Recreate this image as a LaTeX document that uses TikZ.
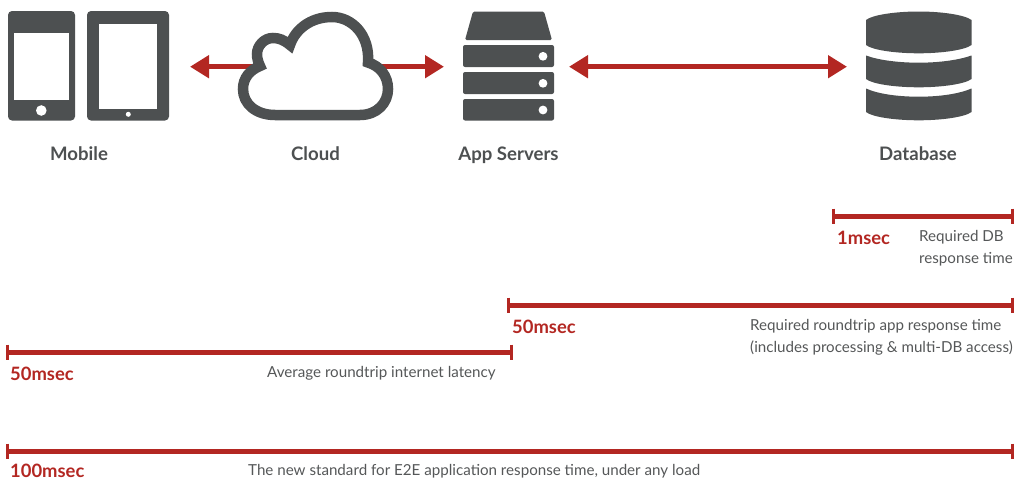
\documentclass[tikz,border=0pt]{standalone}
\usepackage{fontspec}
\setmainfont{Lato}
\usetikzlibrary{arrows.meta}
\definecolor{ink}{HTML}{4D5051}
\definecolor{txt}{HTML}{555758}
\definecolor{brick}{HTML}{B32722}
\tikzset{
  x=1pt,y=-1pt,
  icon/.style={fill=ink,draw=none},
  hole/.style={fill=white,draw=none},
  biarrow/.style={draw=brick,line width=5pt,{Triangle[length=19pt,width=22pt]}-{Triangle[length=19pt,width=22pt]},shorten <=0pt,shorten >=0pt},
  spanbar/.style={draw=brick,line width=5pt},
  tick/.style={draw=brick,line width=3pt},
  title/.style={text=ink,font=\fontsize{18.6}{20}\selectfont\bfseries,anchor=base,inner sep=0pt},
  amount/.style={text=brick,font=\fontsize{18.4}{20}\selectfont\bfseries,anchor=base west,inner sep=0pt},
  note/.style={text=txt,font=\fontsize{15.15}{22}\selectfont,anchor=base west,inner sep=0pt},
}
\newcommand{\spanbarline}[3]{%
  \coordinate (#1L) at (#2,#3);
  \coordinate (#1R) at (1012.5,#3);
  \draw[spanbar] (#1L) -- (#1R);
  \draw[tick] ([yshift=7.5pt]#1L) -- ([yshift=-7.5pt]#1L);
  \draw[tick] ([yshift=7.5pt]#1R) -- ([yshift=-7.5pt]#1R);
}
\begin{document}
\begin{tikzpicture}
\useasboundingbox (0,0) rectangle (1014,479);
% arrows
\coordinate (cloudL) at (190,66.7);
\coordinate (cloudR) at (444,66.7);
\coordinate (srvR) at (569,66.7);
\coordinate (dbL) at (847,66.7);
\draw[biarrow] (cloudL) -- (cloudR);
\draw[biarrow] (srvR) -- (dbL);
% phone
\fill[icon,rounded corners=4pt] (8,11) rectangle (75,120.5);
\fill[hole] (14,32.5) rectangle (69,99.5);
\fill[hole] (41.3,110.5) circle (5.3);
% tablet
\fill[icon,rounded corners=4pt] (87,11) rectangle (169,120.5);
\fill[hole] (99,23.5) rectangle (157,108.5);
\fill[hole] (128.3,114.3) circle (2.5);
% cloud
\draw[draw=ink,fill=white,line width=10.5pt,line join=miter,miter limit=6]
 (275,115) -- (360,115)
 .. controls (377,115) and (388,103) .. (388,89)
 .. controls (388,76) and (380,66) .. (368,62.5)
 .. controls (370,35) and (352,17) .. (332,17)
 .. controls (310,17) and (295,30) .. (290,45)
 .. controls (284,40) and (279,38) .. (273,38)
 .. controls (264,38) and (257,46) .. (257,54)
 .. controls (257,58) and (258,62) .. (260,66)
 .. controls (250,70) and (243,78) .. (243,89)
 .. controls (243,104) and (256,115) .. (275,115) -- cycle;
% server
\fill[icon,rounded corners=1.5pt] (473,11.5) -- (544,11.5) -- (552,40) -- (465,40) -- cycle;
\foreach \ya/\yb/\yc in {45/67/56.3,72/94/83.3,99/120.5/110}{
  \fill[icon,rounded corners=2pt] (463,\ya) rectangle (554,\yb);
  \fill[hole] (543,\yc) circle (4.4);
}
% database
\fill[icon] (866,20) .. controls (872,15) and (895,11.5) .. (918.7,11.5) .. controls (942,11.5) and (965,15) .. (971.5,20)
  -- (971.5,45) .. controls (965,50) and (942,53.3) .. (918.7,53.3) .. controls (895,53.3) and (872,50) .. (866,45) -- cycle;
\fill[icon] (866,55.5) .. controls (878,60) and (898,62.7) .. (918.7,62.7) .. controls (939,62.7) and (959,60) .. (971.5,55.5)
  -- (971.5,79) .. controls (965,84) and (942,87.3) .. (918.7,87.3) .. controls (895,87.3) and (872,84) .. (866,79) -- cycle;
\fill[icon] (866,88.5) .. controls (878,94) and (898,96.7) .. (918.7,96.7) .. controls (939,96.7) and (959,94) .. (971.5,88.5)
  -- (971.5,112) .. controls (965,117) and (942,120.3) .. (918.7,120.3) .. controls (895,120.3) and (872,117) .. (866,112) -- cycle;
% titles
\node[title] (mobile) at (79,160) {Mobile};
\node[title] (cloud) at (315.5,160) {Cloud};
\node[title] (app) at (508.5,160) {App Servers};
\node[title] (database) at (918,160) {Database};
% bars
\spanbarline{dbbar}{833.5}{216}
\spanbarline{appbar}{508.5}{305}
\coordinate (netL) at (7.5,352);
\coordinate (netR) at (511,352);
\draw[spanbar] (netL) -- (netR);
\draw[tick] ([yshift=7.5pt]netL) -- ([yshift=-7.5pt]netL);
\draw[tick] ([yshift=7.5pt]netR) -- ([yshift=-7.5pt]netR);
\spanbarline{ee}{7.5}{451}
% labels
\node[amount] (a1) at (837,244) {1msec};
\node[note] (n1a) at (919,241) {Required DB};
\node[note] (n1b) at (919,263) {response time};
\node[amount] (a2) at (512,333) {50msec};
\node[note] (n2a) at (750,330) {Required roundtrip app response time};
\node[note] (n2b) at (750,352) {(includes processing \& multi-DB access)};
\node[amount] (a3) at (10,380) {50msec};
\node[note] (n3) at (267,377) {Average roundtrip internet latency};
\node[amount] (a4) at (10,477) {100msec};
\node[note] (n4) at (248,475) {The new standard for E2E application response time, under any load};
\end{tikzpicture}
\end{document}
